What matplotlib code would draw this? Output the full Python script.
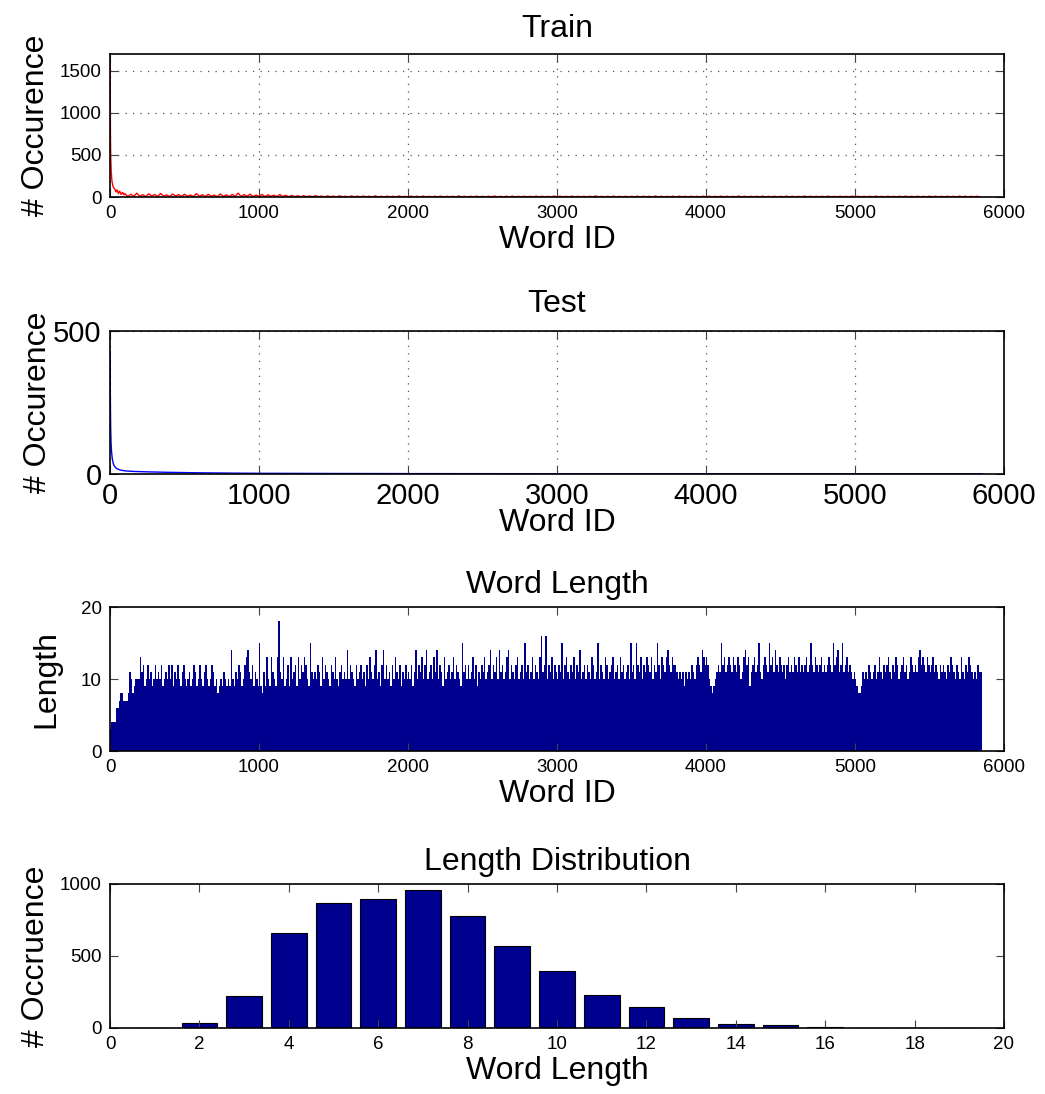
import numpy as np
import matplotlib.pyplot as plt

plt.rcParams['font.family'] = ['Liberation Sans', 'DejaVu Sans']

# --- train word counts: first words one by one, then every 20 ids
train_head_ids = list(range(1, 21)) + [24, 28, 33, 40, 48, 56, 65, 75, 85, 95]
train_head = [1600, 980, 720, 560, 470, 400, 350, 310, 280, 250,
              230, 210, 190, 180, 170, 160, 150, 140, 135, 130,
              115, 100, 92, 60, 85, 40, 70, 30, 55, 25]
train_tail = [
    40, 6, 32, 10, 45, 8, 28, 5, 38, 12, 30, 7, 42, 9, 26, 4, 35, 11, 29, 6,
    33, 8, 24, 5, 40, 10, 27, 6, 31, 9, 22, 4, 36, 7, 25, 5, 30, 8, 46, 6,
    28, 9, 34, 5, 23, 7, 30, 4, 26, 8, 21, 5, 29, 6, 20, 3, 18, 5, 14, 3,
    15, 4, 12, 2, 16, 3, 11, 2, 13, 4, 10, 2, 14, 3, 9, 2, 12, 3, 10, 2,
    11, 2, 9, 1, 13, 2, 8, 1, 10, 2, 9, 1, 12, 2, 8, 1, 10, 2, 9, 1,
    11, 2, 8, 1, 9, 2, 10, 1, 8, 2, 9, 1, 12, 2, 8, 1, 9, 1, 10, 2,
    8, 1, 9, 2, 11, 1, 8, 2, 9, 1, 10, 2, 8, 1, 9, 2, 8, 1, 10, 1,
    9, 2, 8, 1, 11, 2, 9, 1, 8, 2, 10, 1, 9, 2, 8, 1, 9, 2, 12, 1,
    8, 2, 9, 1, 10, 2, 8, 1, 9, 1, 8, 2, 10, 1, 9, 2, 8, 1, 11, 2,
    9, 1, 8, 2, 9, 1, 10, 2, 8, 1, 9, 2, 8, 1, 10, 1, 9, 2, 8, 1,
    10, 2, 9, 1, 8, 2, 11, 1, 9, 2, 8, 1, 9, 2, 10, 1, 8, 2, 9, 1,
    8, 2, 10, 1, 9, 2, 8, 1, 11, 2, 9, 1, 8, 2, 9, 1, 10, 2, 8, 1,
    9, 2, 8, 1, 10, 2, 9, 1, 8, 2, 9, 1, 10, 2, 8, 1, 9, 2, 8, 1,
    9, 1, 10, 2, 8, 1, 9, 2, 8, 1, 10, 2, 9, 1, 8, 2, 9, 1, 8, 1,
    10, 2, 9, 1, 8, 2, 9, 1,
]
train_tail_ids = list(range(100, 100 + 20 * len(train_tail), 20))
train_ids = train_head_ids + train_tail_ids
train_counts = train_head + train_tail

# --- test word counts (sorted, smooth decay)
test_ids = [1, 2, 3, 4, 5, 7, 10, 15, 22, 30, 45, 67, 100, 157, 250, 380,
            550, 830, 1000, 1500, 2000, 3000, 4000, 5000, 5850]
test_counts = [430, 300, 230, 180, 150, 110, 80, 55, 36, 27, 19, 14, 11, 9,
               7.5, 6, 4.5, 3, 2.5, 1.8, 1.4, 1.0, 0.8, 0.6, 0.5]

# --- word length, one value per block of 10 word ids
len_step = 10
word_len = [
    3, 4, 4, 4, 6, 6, 7, 8, 8, 7, 7, 7, 8, 11, 10, 8, 9, 10, 10, 10,
    13, 11, 12, 9, 10, 12, 10, 11, 9, 10, 12, 10, 11, 10, 12, 9, 10, 11, 10, 12,
    10, 12, 9, 11, 10, 12, 10, 9, 11, 12, 10, 9, 10, 11, 9, 10, 12, 11, 9, 10,
    12, 10, 9, 11, 12, 10, 9, 10, 12, 11, 9, 10, 8, 9, 10, 9, 11, 10, 9, 10,
    9, 14, 10, 9, 11, 10, 12, 11, 9, 10, 12, 13, 14, 11, 10, 12, 9, 11, 10, 9,
    15, 9, 8, 11, 9, 13, 10, 9, 13, 11, 10, 9, 13, 18, 11, 10, 13, 9, 10, 12,
    9, 13, 10, 11, 12, 9, 13, 10, 12, 11, 13, 12, 10, 9, 15, 11, 10, 11, 10, 12,
    11, 9, 13, 10, 12, 11, 10, 9, 12, 11, 10, 13, 10, 9, 11, 12, 10, 11, 10, 14,
    10, 12, 11, 10, 9, 12, 10, 11, 12, 10, 11, 9, 12, 10, 13, 11, 10, 12, 14, 10,
    11, 9, 12, 14, 10, 12, 10, 11, 9, 12, 10, 13, 11, 10, 12, 9, 11, 10, 12, 10,
    11, 10, 12, 9, 11, 14, 10, 12, 11, 13, 10, 12, 14, 10, 11, 12, 10, 13, 11, 14,
    10, 12, 11, 9, 13, 10, 11, 12, 10, 11, 13, 10, 12, 11, 10, 9, 15, 11, 12, 10,
    12, 10, 11, 13, 10, 12, 9, 11, 10, 12, 11, 13, 10, 11, 12, 14, 10, 12, 11, 13,
    10, 14, 11, 12, 10, 11, 13, 14, 10, 12, 11, 10, 12, 13, 10, 11, 12, 10, 15, 11,
    12, 10, 11, 13, 10, 12, 11, 10, 13, 16, 11, 12, 16, 10, 12, 11, 13, 10, 12, 11,
    10, 12, 11, 15, 10, 12, 13, 11, 10, 12, 11, 13, 10, 12, 11, 14, 10, 11, 12, 10,
    12, 11, 10, 13, 12, 10, 11, 15, 10, 12, 11, 10, 13, 12, 10, 11, 12, 13, 10, 11,
    12, 10, 13, 11, 12, 10, 11, 12, 10, 15, 11, 12, 10, 15, 12, 11, 13, 10, 12, 11,
    13, 12, 11, 13, 10, 12, 11, 15, 12, 10, 13, 12, 11, 13, 14, 12, 11, 13, 12, 12,
    11, 10, 11, 10, 11, 9, 11, 10, 11, 10, 12, 11, 10, 12, 13, 12, 11, 14, 13, 12,
    13, 12, 10, 9, 8, 9, 10, 11, 12, 11, 15, 12, 13, 11, 12, 13, 12, 11, 13, 12,
    11, 13, 12, 10, 11, 13, 14, 12, 13, 9, 11, 12, 13, 11, 12, 15, 11, 10, 12, 13,
    12, 11, 15, 12, 13, 11, 14, 12, 11, 13, 12, 11, 12, 10, 12, 13, 11, 12, 11, 13,
    12, 11, 13, 11, 12, 11, 12, 13, 11, 12, 15, 12, 11, 13, 12, 11, 12, 13, 11, 12,
    11, 12, 13, 12, 11, 15, 12, 13, 14, 11, 12, 15, 11, 12, 13, 11, 12, 11, 10, 11,
    10, 9, 8, 8, 9, 11, 10, 11, 10, 12, 11, 10, 11, 12, 10, 11, 13, 11, 10, 12,
    11, 12, 13, 11, 10, 12, 11, 13, 12, 10, 11, 12, 13, 11, 12, 10, 11, 13, 12, 11,
    12, 11, 13, 14, 12, 13, 12, 11, 13, 12, 11, 12, 13, 11, 12, 11, 10, 12, 11, 12,
    11, 10, 12, 11, 13, 12, 11, 10, 12, 11, 10, 13, 11, 10, 12, 11, 13, 12, 11, 10,
    11, 10, 12, 11, 11,
]
len_ids = [len_step * i + len_step / 2 for i in range(len(word_len))]

# --- histogram of word lengths
lengths = list(range(1, 20))
length_counts = [2, 32, 225, 659, 870, 898, 958, 775, 566, 399,
                 230, 144, 67, 26, 19, 4, 1, 1, 0]

navy = '#00008f'
W, H = 1045, 1094
fig = plt.figure(figsize=(W / 100, H / 100), dpi=100)


def make_axes(top, bottom, tick_size):
    ax = fig.add_axes([110 / W, 1 - bottom / H, 894 / W, (bottom - top) / H])
    ax.tick_params(direction='in', top=True, right=True, length=6,
                   width=0.8, color='#444444', labelsize=tick_size, pad=6)
    for s in ax.spines.values():
        s.set_linewidth(1.2)
        s.set_color('black')
    return ax


def dotted_grid(ax):
    ax.grid(True, linestyle=(0, (1, 5)), color='#555555', linewidth=0.9)
    ax.set_axisbelow(True)


lab = 23

# Train
ax1 = make_axes(54, 197, 13.5)
ax1.plot(train_ids, train_counts, color='red', lw=1)
ax1.set_xlim(0, 6000)
ax1.set_ylim(0, 1700)
ax1.set_yticks([0, 500, 1000, 1500])
dotted_grid(ax1)
ax1.set_title('Train', fontsize=lab, pad=12)
ax1.set_xlabel('Word ID', fontsize=lab, labelpad=2)
ax1.set_ylabel('# Occurence', fontsize=lab, labelpad=6)

# Test
ax2 = make_axes(331, 474, 21)
ax2.plot(test_ids, test_counts, color='blue', lw=1)
ax2.set_xlim(0, 6000)
ax2.set_ylim(0, 500)
ax2.set_yticks([0, 500])
dotted_grid(ax2)
ax2.set_title('Test', fontsize=lab, pad=14)
ax2.set_xlabel('Word ID', fontsize=lab, labelpad=-2)
ax2.set_ylabel('# Occurence', fontsize=lab, labelpad=0)

# Word length per word id
ax3 = make_axes(607, 751, 13.5)
ax3.bar(len_ids, word_len, width=len_step, color=navy, linewidth=0)
ax3.set_xlim(0, 6000)
ax3.set_ylim(0, 20)
ax3.set_yticks([0, 10, 20])
ax3.set_title('Word Length', fontsize=lab, pad=10)
ax3.set_xlabel('Word ID', fontsize=lab, labelpad=2)
ax3.set_ylabel('Length', fontsize=lab, labelpad=14)

# Length distribution
ax4 = make_axes(884, 1028, 13.5)
ax4.bar(lengths, length_counts, width=0.8, color=navy,
        edgecolor='black', linewidth=0.8)
ax4.set_xlim(0, 20)
ax4.set_ylim(0, 1000)
ax4.set_xticks(range(0, 21, 2))
ax4.set_yticks([0, 500, 1000])
ax4.set_title('Length Distribution', fontsize=lab, pad=10)
ax4.set_xlabel('Word Length', fontsize=lab, labelpad=2)
ax4.set_ylabel('# Occruence', fontsize=lab, labelpad=6)

fig.savefig('out.png', dpi=100)
